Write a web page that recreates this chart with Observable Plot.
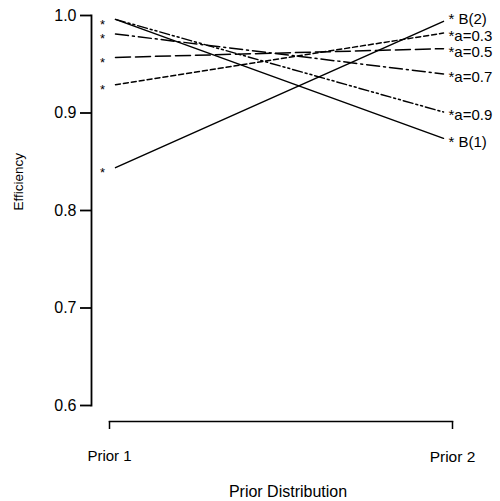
<!DOCTYPE html>
<html><head><meta charset="utf-8">
<script src="https://cdn.jsdelivr.net/npm/d3@7"></script>
<script src="https://cdn.jsdelivr.net/npm/@observablehq/plot@0.6"></script>
<style>body{margin:0;background:#fff}</style>
</head><body><div id="chart"></div>
<script>
const priors = ["Prior 1", "Prior 2"];
const series = ["B(1)", "B(2)", "a=0.3", "a=0.5", "a=0.7", "a=0.9"];
const prior1 = [0.996, 0.844, 0.929, 0.957, 0.981, 0.996];
const prior2 = [0.874, 0.994, 0.982, 0.966, 0.940, 0.901];
const endLabels = ["* B(1)", "* B(2)", "*a=0.3", "*a=0.5", "*a=0.7", "*a=0.9"];
const yTicks = [0.6, 0.7, 0.8, 0.9, 1.0];
const yTitle = "Efficiency";
const xTitle = "Prior Distribution";

// styles (not data)
const dashes = {"a=0.3": "5,3", "a=0.5": "15,5", "a=0.7": "13,4,2,4", "a=0.9": "10,3,2,3,2,3"};
const labelNudge = {"B(2)": -6};

const rows = series.map((s, i) => ({s, p1: prior1[i], p2: prior2[i], label: endLabels[i]}));
// one asterisk per distinct starting value (coincident starts share one)
const leftRows = rows.filter((r, i) => rows.findIndex(q => q.p1 === r.p1) === i);
const font = "'Liberation Sans', Arial, Helvetica, sans-serif";

const lineMarks = rows.map(r => Plot.line(
  [{x: priors[0], y: r.p1}, {x: priors[1], y: r.p2}],
  Object.assign({x: "x", y: "y", stroke: "black", strokeWidth: 1.5},
    dashes[r.s] ? {strokeDasharray: dashes[r.s]} : {})
));

const leftStars = Plot.text(leftRows, {x: () => priors[0], y: "p1", text: () => "*", dx: -13, dy: 5, fontSize: 13, fill: "black"});
const rightLabels = rows.map(r => Plot.text([r], {
  x: () => priors[1], y: "p2", text: "label", textAnchor: "start",
  dx: 5, dy: 3.5 + (labelNudge[r.s] || 0), fontSize: 15, fill: "black"
}));

const chart = Plot.plot({
  width: 500,
  height: 501,
  marginTop: 15,
  marginBottom: 96,
  marginLeft: 91,
  marginRight: 48,
  style: `font-family: ${font}; background: white; color: black;`,
  x: {type: "point", domain: priors, padding: 0, insetLeft: 24, insetRight: 9},
  y: {domain: [0.6, 1.0]},
  marks: [
    Plot.frame({anchor: "left", strokeWidth: 1.8}),
    Plot.frame({anchor: "bottom", dy: 16, insetLeft: 18, strokeWidth: 1.5}),
    Plot.axisY(yTicks, {tickSize: 11, tickPadding: 4, tickFormat: d3.format(".1f"), fontSize: 16, label: null, strokeWidth: 1.8}),
    Plot.axisX([priors[0]], {dx: -6, dy: 16, tickSize: 8, tickPadding: 21, fontSize: 15, label: null, strokeWidth: 1.5}),
    Plot.axisX([priors[1]], {dx: 9, dy: 16, tickSize: 8, tickPadding: 21, fontSize: 15.5, label: null, strokeWidth: 1.5}),
    ...lineMarks,
    leftStars,
    ...rightLabels,
    Plot.text([yTitle], {frameAnchor: "left", dx: -73, rotate: -90, fontSize: 13.5, fill: "black"}),
    Plot.text([xTitle], {frameAnchor: "bottom", dx: 16, dy: 91, fontSize: 16, fill: "black"})
  ]
});
document.getElementById("chart").appendChild(chart);
</script>
</body></html>
